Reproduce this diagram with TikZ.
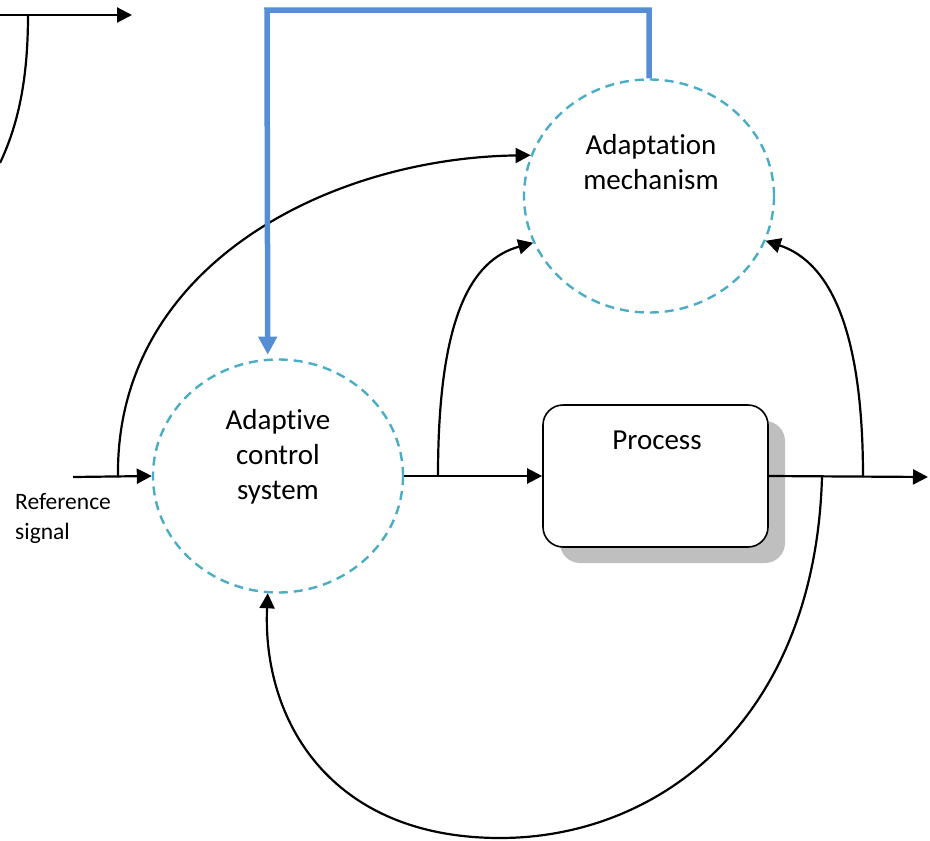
\documentclass[tikz,border=0pt]{standalone}
\usepackage{fontspec}
\setmainfont{Carlito}[Ligatures=NoCommon]
\usetikzlibrary{shapes.geometric,arrows.meta}

\definecolor{ringblue}{RGB}{75,172,198}
\definecolor{feedblue}{RGB}{85,142,213}
\definecolor{shadowgray}{RGB}{191,191,191}

\begin{document}
\begin{tikzpicture}[x=1pt,y=-1pt,
  flow/.style={draw=black, line width=2.2pt, -{Triangle[length=15pt,width=15pt]}},
  wire/.style={draw=black, line width=2.2pt},
  ring/.style={ellipse, draw=ringblue, line width=2.4pt, dash pattern=on 9pt off 6pt,
    minimum width=250pt, minimum height=233pt, inner sep=0pt},
  bigtext/.style={font=\fontsize{29}{35}\selectfont, align=center, inner sep=0pt},
  smalltext/.style={font=\fontsize{23.5}{30}\selectfont, align=left, inner sep=0pt},
  feedback/.style={draw=feedblue, line width=5.5pt, -{Triangle[length=18pt,width=18pt]}}]
\useasboundingbox (0,0) rectangle (930,841);

% the two adaptive blocks
\node[ring] (acs) at (278,476) {};
\node[ring] (am)  at (649,196) {};
\node[bigtext] (acslabel) at (278,457) {Adaptive\\control\\system};
\node[bigtext] (amlabel)  at (651,162) {Adaptation\\mechanism};

% process block with its shadow
\fill[shadowgray, rounded corners=20pt] (560,421) rectangle (785,563);
\node[draw=black, line width=1.6pt, fill=white, rounded corners=20pt,
      minimum width=225pt, minimum height=142pt] (proc) at (655.5,476) {};
\node[bigtext] (proclabel) at (657,440) {Process};

\node[smalltext, anchor=west] (reflabel) at (15,518) {Reference\\signal};

% free ends and branch points
\coordinate (refin) at (73,477);
\coordinate (refbr) at (118,477);
\coordinate (ctlbr) at (438,476);
\coordinate (outbr) at (863,477);
\coordinate (fbbr)  at (822,477);
\coordinate (out)   at (928,477);
\coordinate (tlA)   at (0,15);
\coordinate (tlB)   at (28,15);
\coordinate (tlC)   at (132,15);
\coordinate (tlD)   at (0,163);

% partial loop at the upper left
\draw[flow] (tlA) -- (tlC);
\draw[wire] (tlB) .. controls (28,80) and (18,125) .. (tlD);

% main signal path
\draw[flow] (refin) -- (acs.west);
\draw[flow] (acs.east) -- (proc.west);
\draw[flow] (proc.east) -- (out);

% signals into the adaptation mechanism
\draw[flow] (refbr) .. controls (115,265) and (330,158) .. (am.161);
\draw[flow] (ctlbr) .. controls (438,320) and (470,260) .. (am.202);
\draw[flow] (outbr) .. controls (863,330) and (830,262) .. (am.-21);

% process output fed back to the controller
\draw[flow] (fbbr) .. controls (815,720) and (660,838) .. (500,838)
                   .. controls (330,838) and (262,720) .. (acs.-95);

% parameter update from the adaptation mechanism
\draw[feedback, shorten >=4pt] (am.north) -- (649,10) -- (267,10) -- (acs.95);
\end{tikzpicture}
\end{document}
